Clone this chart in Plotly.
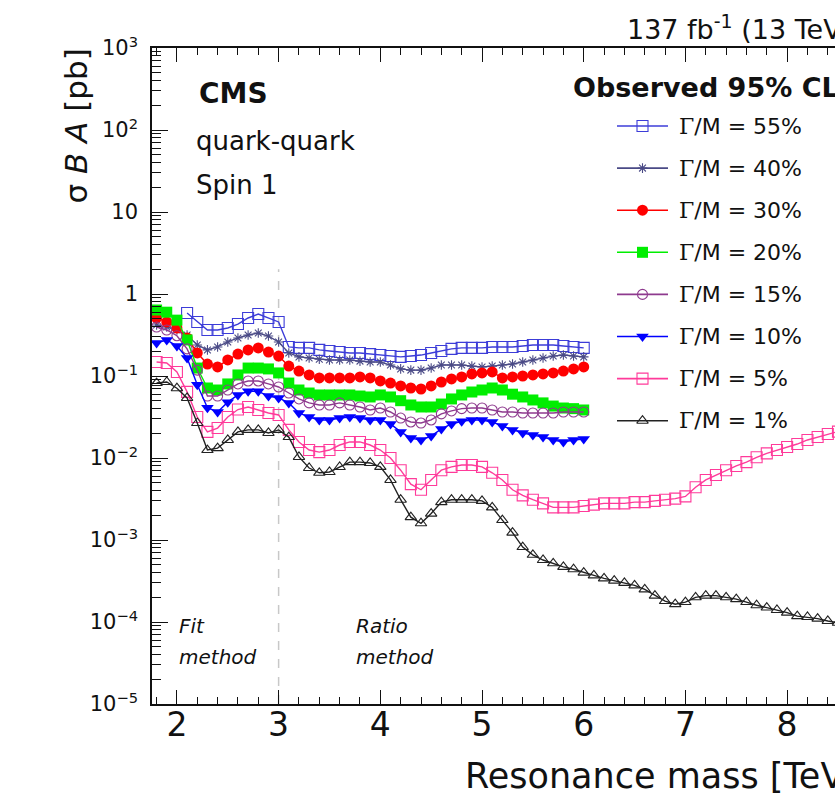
import plotly.graph_objects as go

# ---------------- data ----------------
mass_wide = [1.8, 1.9, 2.0, 2.1, 2.2, 2.3, 2.4, 2.5, 2.6, 2.7, 2.8, 2.9, 3.0,
             3.1, 3.2, 3.3, 3.4, 3.5, 3.6, 3.7, 3.8, 3.9, 4.0, 4.1, 4.2, 4.3,
             4.4, 4.5, 4.6, 4.7, 4.8, 4.9, 5.0, 5.1, 5.2, 5.3, 5.4, 5.5, 5.6,
             5.7, 5.8, 5.9, 6.0]
mass_55 = mass_wide[3:]
mass_narrow = mass_wide + [6.1, 6.2, 6.3, 6.4, 6.5, 6.6, 6.7, 6.8, 6.9, 7.0,
                           7.1, 7.2, 7.3, 7.4, 7.5, 7.6, 7.7, 7.8, 7.9, 8.0,
                           8.1, 8.2, 8.3, 8.4, 8.5]

lim_55 = [0.586, 0.456, 0.364, 0.364, 0.385, 0.43, 0.51, 0.57, 0.51, 0.456,
          0.226, 0.22, 0.22, 0.208, 0.202, 0.196, 0.191, 0.191, 0.185, 0.18,
          0.175, 0.171, 0.175, 0.18, 0.191, 0.202, 0.214, 0.22, 0.22, 0.22,
          0.226, 0.226, 0.226, 0.232, 0.239, 0.239, 0.239, 0.232, 0.226, 0.22]
lim_40 = [0.419, 0.396, 0.364, 0.316, 0.239, 0.208, 0.226, 0.26, 0.291, 0.316,
          0.334, 0.307, 0.26, 0.191, 0.171, 0.166, 0.16, 0.157, 0.157, 0.157,
          0.152, 0.148, 0.148, 0.136, 0.122, 0.118, 0.118, 0.125, 0.136, 0.136,
          0.136, 0.132, 0.129, 0.132, 0.136, 0.14, 0.148, 0.157, 0.166, 0.175,
          0.18, 0.175, 0.171]
lim_30 = [0.51, 0.456, 0.385, 0.291, 0.191, 0.14, 0.129, 0.157, 0.185, 0.208,
          0.22, 0.196, 0.175, 0.132, 0.115, 0.103, 0.0946, 0.0946, 0.0946,
          0.0946, 0.0973, 0.0946, 0.087, 0.082, 0.0756, 0.0714, 0.0694, 0.0756,
          0.0845, 0.092, 0.0973, 0.106, 0.109, 0.112, 0.0946, 0.0973, 0.1,
          0.103, 0.106, 0.109, 0.115, 0.122, 0.129]
lim_20 = [0.638, 0.6, 0.48, 0.275, 0.125, 0.0714, 0.0675, 0.08, 0.103, 0.125,
          0.125, 0.122, 0.109, 0.082, 0.0675, 0.062, 0.0587, 0.0587, 0.0587,
          0.0587, 0.057, 0.0555, 0.0587, 0.0555, 0.05, 0.0443, 0.0419, 0.0419,
          0.0455, 0.0525, 0.0587, 0.0638, 0.0675, 0.0714, 0.0675, 0.06, 0.0555,
          0.051, 0.047, 0.043, 0.0407, 0.04, 0.0385]
lim_15 = [0.396, 0.364, 0.31, 0.214, 0.118, 0.057, 0.057, 0.0675, 0.08, 0.087,
          0.087, 0.08, 0.0735, 0.062, 0.0525, 0.047, 0.0443, 0.0443, 0.047,
          0.0443, 0.0419, 0.0385, 0.0407, 0.0364, 0.0307, 0.0275, 0.0267,
          0.0291, 0.0345, 0.0375, 0.04, 0.0407, 0.0407, 0.0385, 0.0364, 0.0364,
          0.0354, 0.0354, 0.0354, 0.0354, 0.0364, 0.0364, 0.0364]
lim_10 = [0.253, 0.275, 0.232, 0.166, 0.078, 0.041, 0.0364, 0.048, 0.0587,
          0.065, 0.065, 0.057, 0.054, 0.047, 0.0354, 0.0316, 0.0291, 0.0291,
          0.0307, 0.0316, 0.0307, 0.0291, 0.0291, 0.026, 0.0208, 0.0175, 0.0166,
          0.0185, 0.0226, 0.026, 0.028, 0.0291, 0.0291, 0.0275, 0.0245, 0.022,
          0.0202, 0.0191, 0.018, 0.0166, 0.0157, 0.0166, 0.017]
lim_5 = [0.148, 0.144, 0.112, 0.064, 0.0316, 0.0208, 0.0232, 0.0316, 0.039,
         0.0419, 0.0385, 0.0354, 0.0335, 0.022, 0.0157, 0.0125, 0.0118, 0.0125,
         0.0144, 0.0157, 0.0157, 0.0144, 0.0125, 0.01, 0.0071, 0.0048, 0.0041,
         0.0054, 0.0071, 0.0078, 0.0082, 0.0082, 0.0078, 0.0066, 0.0054, 0.0041,
         0.0035, 0.0031, 0.0028, 0.0025, 0.0025, 0.0025, 0.0026, 0.0027, 0.0028,
         0.0028, 0.0028, 0.0029, 0.0029, 0.003, 0.0031, 0.0032, 0.0034, 0.0044,
         0.0054, 0.0062, 0.0071, 0.008, 0.0089, 0.0102, 0.0114, 0.0125, 0.0136,
         0.0148, 0.0166, 0.018, 0.0196, 0.021]
lim_1 = [0.082, 0.0845, 0.071, 0.054, 0.0267, 0.0125, 0.0132, 0.0166, 0.0208,
         0.022, 0.022, 0.0202, 0.022, 0.018, 0.0103, 0.00755, 0.0066, 0.00675,
         0.00777, 0.0089, 0.0089, 0.0087, 0.0078, 0.0054, 0.0031, 0.0019,
         0.0016, 0.0021, 0.0029, 0.0031, 0.0031, 0.0031, 0.003, 0.0025,
         0.00175, 0.00123, 0.00082, 0.00066, 0.00057, 0.00052, 0.00047,
         0.00044, 0.0004, 0.00037, 0.00034, 0.00032, 0.0003, 0.00028, 0.00025,
         0.00021, 0.00018, 0.000165, 0.000175, 0.0002, 0.00021, 0.00021,
         0.0002, 0.00019, 0.000175, 0.00016, 0.00015, 0.00014, 0.00013,
         0.000118, 0.000115, 0.00011, 0.000103, 0.000098]

legend_labels = ["55%", "40%", "30%", "20%", "15%", "10%", "5%", "1%"]
boundary_mass = [3.0, 3.0]
boundary_lim = [1e-5, 2.0]

ytick_vals = [1e-5, 1e-4, 1e-3, 1e-2, 1e-1, 1, 10, 100, 1000]
ytick_text = ["10<sup>−5</sup>", "10<sup>−4</sup>", "10<sup>−3</sup>",
              "10<sup>−2</sup>", "10<sup>−1</sup>", "1", "10",
              "10<sup>2</sup>", "10<sup>3</sup>"]
xtick_vals = [2, 3, 4, 5, 6, 7, 8]
xtick_text = ["2", "3", "4", "5", "6", "7", "8"]

# ---------------- styling ----------------
FONT = "DejaVu Sans"
W, H = 835, 799
L, R, T, B = 152, 0, 48, 95
PW, PH = W - L - R, H - T - B


def pxx(x):
    return (x - L) / PW


def pxy(y):
    return (H - B - y) / PH


styles = [
    (mass_55, lim_55, "#3c3cd8", dict(symbol="square-open", size=11, line=dict(width=1.1, color="#3c3cd8"))),
    (mass_wide, lim_40, "#4a4a86", dict(symbol="asterisk-open", size=8, line=dict(width=1.1, color="#4a4a86"))),
    (mass_wide, lim_30, "#ff0000", dict(symbol="circle", size=11, line=dict(width=0))),
    (mass_wide, lim_20, "#00ee00", dict(symbol="square", size=11, line=dict(width=0))),
    (mass_wide, lim_15, "#8e3a8e", dict(symbol="circle-open", size=10, line=dict(width=1.1, color="#a060a8"))),
    (mass_wide, lim_10, "#0000ff", dict(symbol="triangle-down", size=11, line=dict(width=0))),
    (mass_narrow, lim_5, "#ff3a9a", dict(symbol="square-open", size=11, line=dict(width=1.1, color="#ff3a9a"))),
    (mass_narrow, lim_1, "#222222", dict(symbol="triangle-up-open", size=10, line=dict(width=1.1, color="#222222"))),
]

fig = go.Figure()

fig.add_trace(go.Scatter(x=boundary_mass, y=boundary_lim, mode="lines",
                         line=dict(color="#c8c8c8", width=1.5, dash="dash"),
                         showlegend=False, hoverinfo="skip"))

for (mx, lim, col, mk) in styles:
    mk = dict(mk)
    mk["color"] = col
    fig.add_trace(go.Scatter(x=mx, y=lim, mode="lines+markers",
                             line=dict(color=col, width=1.4),
                             marker=mk, showlegend=False))

# manual legend drawn on a pixel-coordinate overlay axis
leg_y0, leg_dy = 126, 42.1
for i, (lab, (mx, lim, col, mk)) in enumerate(zip(legend_labels, styles)):
    yy = leg_y0 + i * leg_dy
    mk = dict(mk)
    mk["color"] = col
    fig.add_trace(go.Scatter(x=[617, 668], y=[yy, yy], mode="lines",
                             line=dict(color=col, width=1.6),
                             xaxis="x2", yaxis="y2", showlegend=False,
                             hoverinfo="skip"))
    fig.add_trace(go.Scatter(x=[642.5], y=[yy], mode="markers", marker=mk,
                             xaxis="x2", yaxis="y2", showlegend=False,
                             hoverinfo="skip"))
    fig.add_annotation(x=pxx(677), y=pxy(yy), xref="paper", yref="paper",
                       text="<span style='font-family:DejaVu Serif'>Γ</span>/M = " + lab,
                       showarrow=False, xanchor="left", yanchor="middle",
                       font=dict(family=FONT, size=22, color="#111111"))

texts = [
    (197, 94, "<b>CMS</b>", 28, "left"),
    (194, 141, "quark-quark", 26, "left"),
    (194, 185, "Spin 1", 26, "left"),
    (571, 87, "<b>Observed 95% CL</b>", 27, "left"),
    (625, 28, "137 fb<sup>-1</sup> (13 TeV)", 27, "left"),
    (177, 626, "<i>Fit</i>", 20, "left"),
    (177, 657, "<i>method</i>", 20, "left"),
    (354, 626, "<i>Ratio</i>", 20, "left"),
    (354, 657, "<i>method</i>", 20, "left"),
    (463, 776, "Resonance mass [TeV]", 35, "left"),
]
for (x, y, t, s, xa) in texts:
    fig.add_annotation(x=pxx(x), y=pxy(y), xref="paper", yref="paper", text=t,
                       showarrow=False, xanchor=xa, yanchor="middle",
                       font=dict(family=FONT, size=s, color="#111111"))

fig.add_annotation(x=pxx(75), y=pxy(47), xref="paper", yref="paper",
                   text="σ <i>B</i> <i>A</i> [pb]", textangle=-90,
                   showarrow=False, xanchor="center", yanchor="top",
                   font=dict(family=FONT, size=31, color="#111111"))

fig.update_layout(
    width=W, height=H,
    margin=dict(l=L, r=R, t=T, b=B, pad=0),
    paper_bgcolor="white", plot_bgcolor="white",
    font=dict(family=FONT, color="#111111"),
    showlegend=False,
    xaxis=dict(range=[1.755, 1.755 + PW / 101.7], showgrid=False, zeroline=False,
               showline=True, linecolor="#111111", linewidth=1.5,
               mirror="allticks", ticks="inside", ticklen=14, tickwidth=1.3,
               tickcolor="#111111", tickvals=xtick_vals, ticktext=xtick_text,
               tickfont=dict(family=FONT, size=33, color="#111111"),
               ticklabelstandoff=-9,
               minor=dict(ticks="inside", ticklen=7, tickwidth=1,
                          tickcolor="#111111", dtick=0.2, tick0=0, showgrid=False)),
    yaxis=dict(type="log", range=[-5, 3], showgrid=False, zeroline=False,
               showline=True, linecolor="#111111", linewidth=1.5,
               ticks="inside", ticklen=16, tickwidth=1.3, tickcolor="#111111",
               tickvals=ytick_vals, ticktext=ytick_text,
               tickfont=dict(family=FONT, size=21, color="#111111"),
               ticklabelstandoff=8,
               minor=dict(ticks="inside", ticklen=9, tickwidth=1,
                          tickcolor="#111111", dtick="D1", showgrid=False)),
    xaxis2=dict(range=[L, W - R], overlaying="x", anchor="y2", visible=False),
    yaxis2=dict(range=[H - B, T], overlaying="y", anchor="x2", visible=False),
)

fig.write_html("out.html")
